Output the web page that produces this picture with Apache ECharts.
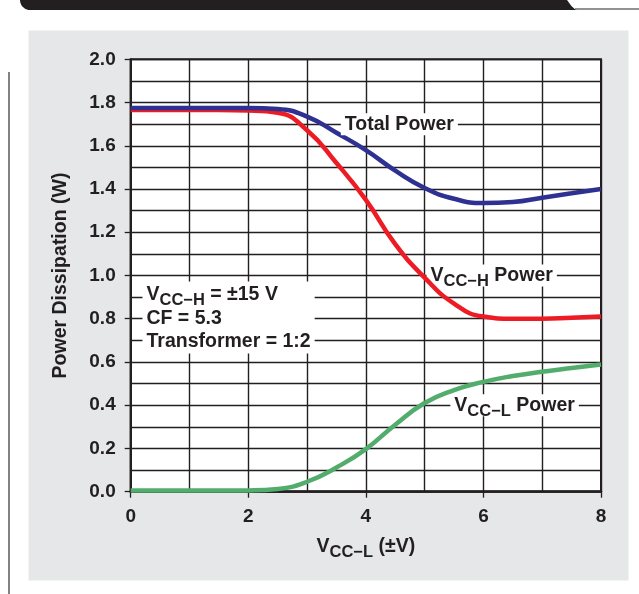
<!DOCTYPE html>
<html>
<head>
<meta charset="utf-8">
<script src="https://cdn.jsdelivr.net/npm/echarts@6/dist/echarts.min.js"></script>
<style>
  html, body { margin: 0; padding: 0; background: #fff; }
  #chart { width: 639px; height: 594px; }
</style>
</head>
<body>
<div id="chart"></div>
<script>
// x values (VCC-L, ±V)
const vccL = [0, 0.5, 1, 1.5, 2, 2.5, 3, 3.5, 4, 4.5, 5, 5.5, 6, 6.5, 7, 7.5, 8];
// power dissipation (W)
const totalPower = [1.775, 1.775, 1.775, 1.775, 1.775, 1.77, 1.735, 1.66, 1.58, 1.485, 1.405, 1.355, 1.335, 1.34, 1.36, 1.38, 1.40];
const vccHPower = [1.765, 1.765, 1.765, 1.765, 1.763, 1.753, 1.672, 1.52, 1.35, 1.145, 0.99, 0.87, 0.81, 0.80, 0.80, 0.805, 0.81];
const vccLPower = [0.005, 0.005, 0.005, 0.005, 0.006, 0.013, 0.046, 0.112, 0.197, 0.31, 0.41, 0.47, 0.508, 0.535, 0.555, 0.572, 0.588];

const ink = '#231f20';
const font = "'Liberation Sans', Arial, sans-serif";

function pairs(ys) {
    return vccL.map((x, i) => [x, ys[i]]);
}

// rich styles for subscripts
const richText = {
    v: { fontSize: 19.5, lineHeight: 22, fontWeight: 'bold', fontFamily: font, color: ink },
    s: { fontSize: 16.5, lineHeight: 16, fontWeight: 'bold', fontFamily: font, color: ink, padding: [12, 0, 0, 0] }
};
// first line of the info box is taller because of the subscript
const boxRich = {
    v: { fontSize: 19.5, lineHeight: 23, fontWeight: 'bold', fontFamily: font, color: ink },
    s: { fontSize: 16.5, lineHeight: 26, fontWeight: 'bold', fontFamily: font, color: ink, padding: [12, 0, 0, 0] }
};

function note(coord, text, pos, rich) {
    return {
        coord: coord,
        symbol: 'rect',
        symbolSize: 0,
        label: {
            show: true,
            position: pos || 'inside',
            distance: 0,
            formatter: text,
            backgroundColor: '#fff',
            padding: [0, 4, 0, 4],
            rich: rich || richText
        }
    };
}

const chart = echarts.init(document.getElementById('chart'));

// header bar shape
const headerPts = [[20, -5], [567, -5], [567, 0]];
for (let t = 0; t <= 1.0001; t += 0.1) {
    headerPts.push([567 + 11 * t, 10 * Math.sin(t * Math.PI / 2)]);
}
for (let t = 0; t <= 1.0001; t += 0.1) {
    headerPts.push([30 - 10 * Math.sin(t * Math.PI / 2), 10 - 10 * (1 - Math.cos(t * Math.PI / 2))]);
}

const option = {
    animation: false,
    graphic: [
        { type: 'rect', z: -5, shape: { x: 28.5, y: 30.5, width: 600, height: 550 }, style: { fill: '#e6e7e8' } },
        { type: 'polygon', z: -5, shape: { points: headerPts }, style: { fill: '#231f20' } },
        { type: 'line', z: -5, shape: { x1: 575, y1: 9, x2: 639, y2: 9 }, style: { stroke: '#6d6e71', lineWidth: 1.5 } },
        { type: 'line', z: -5, shape: { x1: 9, y1: 72, x2: 9, y2: 594 }, style: { stroke: '#58595b', lineWidth: 1.5 } }
    ],
    grid: {
        left: 130.7,
        right: 38,
        top: 59.3,
        bottom: 102.3,
        show: true,
        backgroundColor: '#fff',
        borderColor: ink,
        borderWidth: 2
    },
    xAxis: {
        type: 'value',
        min: 0,
        max: 8,
        interval: 2,
        name: '{v|V}{s|CC−L}{v| (±V)}',
        nameLocation: 'middle',
        nameGap: 44,
        nameTextStyle: { rich: richText },
        axisLine: { lineStyle: { color: ink, width: 2.5 } },
        axisTick: { show: true, length: 6, lineStyle: { color: ink, width: 1.3 } },
        axisLabel: { margin: 16, fontSize: 19, fontWeight: 'bold', fontFamily: font, color: ink },
        splitLine: { show: true, lineStyle: { color: ink, width: 1.4 } },
        minorTick: { show: false, splitNumber: 2 },
        minorSplitLine: { show: true, lineStyle: { color: ink, width: 1.4 } }
    },
    yAxis: {
        type: 'value',
        min: 0,
        max: 2,
        interval: 0.2,
        name: 'Power Dissipation (W)',
        nameLocation: 'middle',
        nameGap: 60,
        nameTextStyle: { fontSize: 19.5, fontWeight: 'bold', fontFamily: font, color: ink },
        axisLine: { show: true, lineStyle: { color: ink, width: 2 } },
        axisTick: { show: true, length: 6, lineStyle: { color: ink, width: 1.3 } },
        axisLabel: {
            margin: 15, fontSize: 19, fontWeight: 'bold', fontFamily: font, color: ink,
            formatter: v => v.toFixed(1)
        },
        splitLine: { show: true, lineStyle: { color: ink, width: 1.4 } },
        minorTick: { show: false, splitNumber: 2 },
        minorSplitLine: { show: true, lineStyle: { color: ink, width: 1.4 } }
    },
    series: [
        {
            name: 'VCC-L Power',
            type: 'line',
            data: pairs(vccLPower),
            smooth: 0.5,
            showSymbol: false,
            lineStyle: { color: '#52ad6d', width: 4.5 },
            markPoint: {
                data: [note([6.53, 0.40], '{v|V}{s|CC−L}{v| Power}')]
            }
        },
        {
            name: 'VCC-H Power',
            type: 'line',
            data: pairs(vccHPower),
            smooth: 0.5,
            showSymbol: false,
            lineStyle: { color: '#ed1c24', width: 4.5 },
            markPoint: {
                z: 1,
                data: [
                    note([6.14, 1.0], '{v|V}{s|CC−H}{v| Power}'),
                    note([0.2, 0.806], '{v|V}{s|CC−H}{v| = ±15 V}\n{v|CF = 5.3}\n{v|Transformer = 1:2}', 'right', boxRich)
                ]
            }
        },
        {
            name: 'Total Power',
            type: 'line',
            data: pairs(totalPower),
            smooth: 0.5,
            showSymbol: false,
            lineStyle: { color: '#2e3192', width: 4.5 },
            markPoint: {
                data: [note([4.57, 1.70], '{v|Total Power}')]
            }
        }
    ]
};

chart.setOption(option);
</script>
</body>
</html>
